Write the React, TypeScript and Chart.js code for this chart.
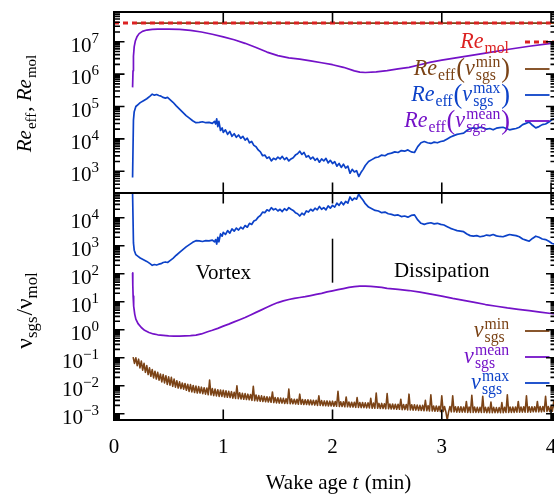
import { useEffect, useRef } from "react";
import { Chart, registerables } from "chart.js";

Chart.register(...registerables);

// ---------- colours ----------
const RED = "#dc2222";
const BROWN = "#7b4316";
const BLUE = "#0c42c8";
const PURPLE = "#7412c8";

// ---------- axes ----------
const X_MIN = 0;
const X_MAX = 4.05;
const xTicks = [0, 1, 2, 3, 4];
// visible decade span (log10) of each panel
const TOP_LO = 2.33;
const TOP_HI = 7.917;
const BOT_LO = -3.203;
const BOT_HI = 4.89;
const topDecades = [3, 4, 5, 6, 7];
const botDecades = [-3, -2, -1, 0, 1, 2, 3, 4];

// ---------- series (values stored as log10) ----------
// Re_mol and Re_eff(nu_sgs^min)
const tRef = [0, 4.05];
const reMolLog = [7.58, 7.58];
const tReMin = [0.17, 4.05];
const reMinLog = [7.575, 7.575];

// nu_sgs^max and Re_eff(nu_sgs^max), same sampling times
const tMax = [
  0.17, 0.178, 0.185, 0.2, 0.22, 0.24, 0.27, 0.3, 0.33, 0.35, 0.37, 0.39, 0.41, 0.43, 0.45, 0.47, 0.49, 0.51,
  0.54, 0.57, 0.6, 0.63, 0.66, 0.69, 0.72, 0.75, 0.78, 0.81, 0.84, 0.87, 0.9, 0.92, 0.93, 0.94, 0.95, 0.96,
  0.975, 0.99, 1.0, 1.02, 1.04, 1.06, 1.08, 1.1, 1.12, 1.14, 1.16, 1.18, 1.2, 1.22, 1.24, 1.26, 1.28, 1.3,
  1.32, 1.34, 1.36, 1.38, 1.4, 1.42, 1.44, 1.46, 1.48, 1.5, 1.52, 1.54, 1.56, 1.58, 1.6, 1.62, 1.64, 1.66,
  1.68, 1.7, 1.72, 1.74, 1.76, 1.78, 1.8, 1.82, 1.84, 1.86, 1.88, 1.9, 1.92, 1.94, 1.96, 1.98, 2.0, 2.02,
  2.04, 2.06, 2.08, 2.1, 2.12, 2.14, 2.16, 2.18, 2.2, 2.22, 2.24, 2.26, 2.28, 2.3, 2.33, 2.36, 2.39, 2.42,
  2.45, 2.48, 2.51, 2.54, 2.57, 2.6, 2.63, 2.66, 2.69, 2.72, 2.75, 2.78, 2.81, 2.84, 2.87, 2.9, 2.93, 2.96,
  2.99, 3.02, 3.05, 3.08, 3.11, 3.14, 3.17, 3.2, 3.23, 3.26, 3.29, 3.32, 3.35, 3.38, 3.41, 3.44, 3.47, 3.5,
  3.53, 3.56, 3.59, 3.62, 3.65, 3.68, 3.71, 3.74, 3.77, 3.8, 3.83, 3.86, 3.89, 3.92, 3.95, 3.98, 4.01, 4.05,
];
const nuMaxLog = [
  4.87, 3.1, 2.84, 2.68, 2.62, 2.56, 2.5, 2.44, 2.36, 2.3, 2.33, 2.31, 2.34, 2.36, 2.4, 2.42, 2.4, 2.46,
  2.55, 2.66, 2.76, 2.86, 2.96, 3.04, 3.12, 3.18, 3.17, 3.15, 3.18, 3.17, 3.2, 3.14, 3.22, 3.06, 3.3, 3.14,
  3.42, 3.34, 3.48, 3.4, 3.54, 3.45, 3.6, 3.52, 3.63, 3.56, 3.66, 3.6, 3.72, 3.66, 3.8, 3.76, 3.88, 3.92,
  4.02, 4.08, 4.2, 4.18, 4.28, 4.24, 4.36, 4.28, 4.32, 4.24, 4.3, 4.22, 4.32, 4.26, 4.36, 4.3, 4.26, 4.18,
  4.14, 4.06, 4.16, 4.1, 4.24, 4.2, 4.3, 4.24, 4.34, 4.28, 4.4, 4.3, 4.36, 4.28, 4.42, 4.34, 4.44, 4.38,
  4.52, 4.44, 4.56, 4.46, 4.58, 4.52, 4.74, 4.62, 4.7, 4.66, 4.84, 4.72, 4.62, 4.5, 4.38, 4.32, 4.26, 4.24,
  4.18, 4.2, 4.14, 4.12, 4.08, 4.1, 4.04, 4.06, 4.02, 4.08, 4.1, 3.92, 3.8, 3.76, 3.8, 3.82, 3.78, 3.8,
  3.76, 3.74, 3.68, 3.62, 3.58, 3.54, 3.52, 3.5, 3.42, 3.36, 3.34, 3.36, 3.32, 3.34, 3.38, 3.36, 3.4, 3.35,
  3.33, 3.32, 3.36, 3.4, 3.38, 3.36, 3.32, 3.24, 3.2, 3.16, 3.26, 3.34, 3.3, 3.24, 3.22, 3.16, 3.08, 3.04,
];
const reMaxLog = [
  2.81, 4.58, 4.84, 5.0, 5.06, 5.12, 5.18, 5.24, 5.32, 5.38, 5.35, 5.37, 5.34, 5.32, 5.28, 5.26, 5.28, 5.22,
  5.13, 5.02, 4.92, 4.82, 4.72, 4.64, 4.56, 4.5, 4.51, 4.53, 4.5, 4.51, 4.48, 4.54, 4.46, 4.62, 4.38, 4.54,
  4.26, 4.34, 4.2, 4.28, 4.14, 4.23, 4.08, 4.16, 4.05, 4.12, 4.02, 4.08, 3.96, 4.02, 3.88, 3.92, 3.8, 3.76,
  3.66, 3.6, 3.48, 3.5, 3.4, 3.44, 3.32, 3.4, 3.36, 3.44, 3.38, 3.46, 3.36, 3.42, 3.32, 3.38, 3.42, 3.5,
  3.54, 3.62, 3.52, 3.58, 3.44, 3.48, 3.38, 3.44, 3.34, 3.4, 3.28, 3.38, 3.32, 3.4, 3.26, 3.34, 3.24, 3.3,
  3.16, 3.24, 3.12, 3.22, 3.1, 3.16, 2.94, 3.06, 2.98, 3.02, 2.84, 2.96, 3.06, 3.18, 3.3, 3.36, 3.42, 3.44,
  3.5, 3.48, 3.54, 3.56, 3.6, 3.58, 3.64, 3.62, 3.66, 3.6, 3.58, 3.76, 3.88, 3.92, 3.88, 3.86, 3.9, 3.88,
  3.92, 3.94, 4.0, 4.06, 4.1, 4.14, 4.16, 4.18, 4.26, 4.32, 4.34, 4.32, 4.36, 4.34, 4.3, 4.32, 4.28, 4.33,
  4.35, 4.36, 4.32, 4.28, 4.3, 4.32, 4.36, 4.44, 4.48, 4.52, 4.42, 4.34, 4.38, 4.44, 4.46, 4.52, 4.6, 4.64,
];

// Re_eff(nu_sgs^mean)
const tReMean = [
  0.17, 0.174, 0.178, 0.185, 0.195, 0.21, 0.23, 0.26, 0.3, 0.35, 0.4, 0.5, 0.6, 0.7, 0.8, 0.9, 1.0, 1.1,
  1.2, 1.3, 1.4, 1.5, 1.6, 1.7, 1.8, 1.9, 2.0, 2.1, 2.2, 2.25, 2.3, 2.4, 2.5, 2.6, 2.7, 2.8, 2.9, 3.0,
  3.2, 3.4, 3.6, 3.8, 4.0, 4.05,
];
const reMeanLog = [
  5.59, 6.1, 6.55, 6.85, 7.02, 7.15, 7.25, 7.32, 7.36, 7.38, 7.39, 7.39, 7.38, 7.35, 7.3, 7.23, 7.15, 7.06,
  6.95, 6.82, 6.68, 6.57, 6.5, 6.46, 6.41, 6.35, 6.29, 6.21, 6.1, 6.06, 6.05, 6.07, 6.11, 6.16, 6.21, 6.29,
  6.37, 6.43, 6.54, 6.65, 6.76, 6.86, 6.95, 6.97,
];

// nu_sgs^mean
const tNuMean = [
  0.17, 0.172, 0.175, 0.18, 0.19, 0.2, 0.22, 0.25, 0.28, 0.32, 0.36, 0.4, 0.45, 0.5, 0.55, 0.6, 0.65, 0.7,
  0.75, 0.8, 0.85, 0.9, 0.95, 1.0, 1.05, 1.1, 1.15, 1.2, 1.25, 1.3, 1.35, 1.4, 1.45, 1.5, 1.55, 1.6, 1.65,
  1.7, 1.75, 1.8, 1.85, 1.9, 1.95, 2.0, 2.05, 2.1, 2.15, 2.2, 2.25, 2.3, 2.35, 2.4, 2.45, 2.5, 2.6, 2.7,
  2.8, 2.9, 3.0, 3.1, 3.2, 3.3, 3.4, 3.5, 3.6, 3.7, 3.8, 3.9, 4.0, 4.05,
];
const nuMeanLog = [
  2.03, 1.6, 1.2, 0.84, 0.55, 0.38, 0.22, 0.08, -0.02, -0.1, -0.15, -0.18, -0.2, -0.22, -0.23, -0.23, -0.22, -0.21,
  -0.19, -0.15, -0.08, -0.02, 0.05, 0.13, 0.2, 0.28, 0.36, 0.44, 0.53, 0.62, 0.71, 0.8, 0.89, 0.97, 1.03, 1.08, 1.12,
  1.15, 1.18, 1.22, 1.26, 1.3, 1.35, 1.39, 1.43, 1.47, 1.51, 1.54, 1.56, 1.56, 1.55, 1.53, 1.51, 1.48, 1.44, 1.4,
  1.34, 1.27, 1.2, 1.12, 1.05, 0.98, 0.9, 0.84, 0.78, 0.73, 0.68, 0.63, 0.58, 0.56,
];

// nu_sgs^min, sampled every NU_MIN_DT minutes from NU_MIN_T0 (16 samples per row)
const NU_MIN_T0 = 0.175;
const NU_MIN_DT = 0.0125;
const nuMinLog = [
  -0.98, -1.2, -1.0, -1.28, -1.05, -1.36, -1.12, -1.44, -1.2, -1.52, -1.28, -1.6, -1.36, -1.66, -1.42, -1.72,
  -1.48, -1.76, -1.52, -1.8, -1.58, -1.86, -1.6, -1.9, -1.64, -1.95, -1.68, -1.98, -1.7, -2.02, -1.76, -2.05,
  -1.82, -2.08, -1.86, -2.1, -1.9, -2.12, -1.92, -2.16, -1.95, -2.2, -1.96, -2.22, -1.99, -2.24, -2.01, -2.26,
  -2.03, -2.26, -2.05, -2.28, -2.07, -2.3, -2.08, -2.32, -1.8, -2.33, -2.1, -2.35, -2.12, -2.36, -2.14, -2.38,
  -2.15, -2.38, -2.16, -2.4, -2.18, -2.41, -2.2, -2.42, -2.21, -2.44, -2.23, -2.45, -2.0, -2.46, -2.25, -2.47,
  -2.27, -2.48, -2.28, -2.49, -2.3, -2.5, -2.31, -2.52, -2.02, -2.53, -2.33, -2.54, -2.35, -2.55, -2.36, -2.56,
  -2.38, -2.57, -2.39, -2.58, -2.4, -2.59, -2.22, -2.6, -2.42, -2.61, -2.43, -2.62, -2.44, -2.62, -2.45, -2.63,
  -2.46, -2.63, -2.12, -2.64, -2.47, -2.64, -2.48, -2.65, -2.48, -2.66, -2.3, -2.66, -2.49, -2.67, -2.5, -2.67,
  -2.5, -2.68, -2.51, -2.68, -2.52, -2.69, -2.52, -2.7, -2.36, -2.7, -2.53, -2.71, -2.54, -2.71, -2.54, -2.72,
  -2.55, -2.72, -2.55, -2.73, -2.56, -2.73, -2.2, -2.74, -2.57, -2.74, -2.57, -2.75, -2.4, -2.75, -2.58, -2.76,
  -2.59, -2.76, -2.59, -2.77, -2.42, -2.77, -2.6, -2.78, -2.6, -2.78, -2.61, -2.79, -2.61, -2.79, -2.45, -2.8,
  -2.62, -2.8, -2.26, -2.8, -2.63, -2.81, -2.63, -2.81, -2.64, -2.82, -2.28, -2.82, -2.65, -2.83, -2.65, -2.83,
  -2.66, -2.84, -2.66, -2.84, -2.48, -2.85, -2.67, -2.85, -2.67, -2.86, -2.3, -2.86, -2.68, -2.87, -2.68, -2.87,
  -2.69, -2.88, -2.7, -2.88, -2.7, -2.89, -2.52, -2.89, -2.71, -2.9, -2.32, -2.9, -2.72, -2.91, -2.72, -2.91,
  -2.73, -2.92, -2.36, -2.92, -2.74, -2.93, -3.22, -2.93, -2.74, -2.93, -2.36, -2.93, -2.75, -2.94, -2.75, -2.94,
  -2.75, -2.94, -2.76, -2.94, -2.56, -2.95, -2.76, -2.95, -2.34, -2.95, -2.76, -2.95, -2.77, -2.95, -2.77, -2.95,
  -2.38, -2.95, -2.77, -2.96, -2.77, -2.96, -2.58, -2.96, -2.77, -2.96, -2.78, -2.96, -2.78, -2.96, -2.6, -2.96,
  -2.77, -2.95, -2.32, -2.95, -2.76, -2.95, -2.76, -2.95, -2.76, -2.94, -2.56, -2.94, -2.76, -2.94, -2.75, -2.94,
  -2.36, -2.94, -2.75, -2.94, -2.75, -2.93, -2.75, -2.93, -2.56, -2.93, -2.74, -2.93, -2.74, -2.92, -2.38, -2.92,
  -2.74, -2.92, -2.73, -2.91, -2.55, -2.91, -2.73,
];

// phase annotations in the lower panel (t in min, log10 of nu ratio)
const phaseLabels = [
  { text: "Vortex", t: 1.0, lv: 1.82 },
  { text: "Dissipation", t: 3.0, lv: 1.9 },
];
const phaseDivider = { t: 2.0, lvFrom: 1.68, lvTo: 3.25 };

// ---------- page / layout ----------
const CANVAS_W = 570;
const CANVAS_H = 495;
const PAD = { left: 114, top: 12, right: 13.5, bottom: 75 };
const TOP_SHARE = 181 / 408; // fraction of the plot height used by the upper panel

const SERIF = '"Liberation Serif", "Times New Roman", Times, serif';
const MAIN_PX = 21;
const SCRIPT_PX = 15;
const PAREN_PX = 25;

type Piece = { s?: string; it?: boolean; big?: boolean; sub?: string; sup?: string };

const fontOf = (px: number, it = false) => `${it ? "italic " : ""}${px}px ${SERIF}`;

function pieceWidth(ctx: CanvasRenderingContext2D, p: Piece, k: number) {
  if (p.s !== undefined) {
    ctx.font = fontOf((p.big ? PAREN_PX : MAIN_PX) * k, p.it);
    return ctx.measureText(p.s).width + (p.it ? 1 : 0);
  }
  ctx.font = fontOf(SCRIPT_PX * k);
  const a = p.sub ? ctx.measureText(p.sub).width : 0;
  const b = p.sup ? ctx.measureText(p.sup).width : 0;
  return Math.max(a, b) + 1;
}

function drawRich(
  ctx: CanvasRenderingContext2D,
  pieces: Piece[],
  x: number,
  y: number,
  align: "left" | "right" | "center",
  color: string,
  subDy = 5,
  supDy = -8,
  k = 1
) {
  const ws = pieces.map((p) => pieceWidth(ctx, p, k));
  const total = ws.reduce((a, b) => a + b, 0);
  let cx = align === "left" ? x : align === "right" ? x - total : x - total / 2;
  ctx.fillStyle = color;
  ctx.textAlign = "left";
  ctx.textBaseline = "alphabetic";
  pieces.forEach((p, i) => {
    if (p.s !== undefined) {
      ctx.font = fontOf((p.big ? PAREN_PX : MAIN_PX) * k, p.it);
      ctx.fillText(p.s, cx, y + (p.big ? 2 : 0));
    } else {
      ctx.font = fontOf(SCRIPT_PX * k);
      if (p.sup) ctx.fillText(p.sup, cx, y + supDy);
      if (p.sub) ctx.fillText(p.sub, cx, y + subDy);
    }
    cx += ws[i];
  });
}

const reEff = (sup: string): Piece[] => [
  { s: "Re", it: true },
  { sub: "eff" },
  { s: "(", big: true },
  { s: "ν", it: true },
  { sub: "sgs", sup },
  { s: ")", big: true },
];
const nuSgs = (sup: string): Piece[] => [{ s: "ν", it: true }, { sub: "sgs", sup }];

type LegendRow = { label: Piece[]; color: string; dash: number[]; width: number; dy: number };
const topLegend: LegendRow[] = [
  { label: [{ s: "Re", it: true }, { sub: "mol" }], color: RED, dash: [5, 4], width: 3, dy: 30 },
  { label: reEff("min"), color: BROWN, dash: [], width: 1.8, dy: 57 },
  { label: reEff("max"), color: BLUE, dash: [], width: 1.8, dy: 83 },
  { label: reEff("mean"), color: PURPLE, dash: [], width: 1.8, dy: 109 },
];
const botLegend: LegendRow[] = [
  { label: nuSgs("min"), color: BROWN, dash: [], width: 1.8, dy: 138 },
  { label: nuSgs("mean"), color: PURPLE, dash: [], width: 1.8, dy: 164 },
  { label: nuSgs("max"), color: BLUE, dash: [], width: 1.8, dy: 190 },
];

const pts = (t: number[], lv: number[]) => t.map((x, i) => ({ x, y: Math.pow(10, lv[i]) }));
const gridPts = (t0: number, dt: number, lv: number[]) => lv.map((v, i) => ({ x: t0 + i * dt, y: Math.pow(10, v) }));

const expLabel = (d: number) => (d < 0 ? "\u2212" + String(-d) : String(d));

const frame = {
  id: "frameAndText",
  afterDraw(chart: any) {
    const ctx: CanvasRenderingContext2D = chart.ctx;
    const { left, right, top, bottom } = chart.chartArea;
    const split = top + (bottom - top) * TOP_SHARE;
    const sx = chart.scales.x;
    const yT = chart.scales.yTop;
    const yB = chart.scales.yBot;
    ctx.save();

    // legend samples
    const sampleL = right - 31.5;
    const sampleR = right - 7;
    const textR = right - 46.5;
    const rows = [
      ...topLegend.map((r) => ({ ...r, y: top + r.dy })),
      ...botLegend.map((r) => ({ ...r, y: top + r.dy + (split - top) })),
    ];
    rows.forEach((r) => {
      ctx.strokeStyle = r.color;
      ctx.lineWidth = r.width;
      ctx.setLineDash(r.dash);
      ctx.beginPath();
      ctx.moveTo(sampleL, r.y);
      ctx.lineTo(r.dash.length ? right : sampleR, r.y);
      ctx.stroke();
    });
    ctx.setLineDash([]);

    // frames
    ctx.strokeStyle = "#000";
    ctx.lineWidth = 2;
    ctx.strokeRect(left, top, right - left, split - top);
    ctx.strokeRect(left, split, right - left, bottom - split);

    // ticks
    const MAJ = 10.5;
    const MIN = 6;
    ctx.lineWidth = 1.6;
    ctx.beginPath();
    xTicks.forEach((t) => {
      const px = sx.getPixelForValue(t);
      ctx.moveTo(px, top);
      ctx.lineTo(px, top + MAJ);
      ctx.moveTo(px, split - MAJ);
      ctx.lineTo(px, split + MAJ);
      ctx.moveTo(px, bottom - MAJ);
      ctx.lineTo(px, bottom);
    });
    const yTicks = (scale: any, lo: number, hi: number) => {
      for (let d = Math.floor(lo); d <= Math.ceil(hi); d++) {
        for (let m = 1; m <= 9; m++) {
          const lv = d + Math.log10(m);
          if (lv < lo || lv > hi) continue;
          const py = scale.getPixelForValue(m * Math.pow(10, d));
          const len = m === 1 ? MAJ : MIN;
          ctx.moveTo(left, py);
          ctx.lineTo(left + len, py);
          ctx.moveTo(right - len, py);
          ctx.lineTo(right, py);
        }
      }
    };
    yTicks(yT, TOP_LO, TOP_HI);
    yTicks(yB, BOT_LO, BOT_HI);
    ctx.stroke();

    // phase divider
    ctx.lineWidth = 1.5;
    ctx.beginPath();
    const dx = sx.getPixelForValue(phaseDivider.t);
    ctx.moveTo(dx, yB.getPixelForValue(Math.pow(10, phaseDivider.lvFrom)));
    ctx.lineTo(dx, yB.getPixelForValue(Math.pow(10, phaseDivider.lvTo)));
    ctx.stroke();

    // y tick labels
    const labelY = (scale: any, decades: number[]) =>
      decades.forEach((d) => {
        const py = scale.getPixelForValue(Math.pow(10, d));
        drawRich(ctx, [{ s: "10" }, { sup: expLabel(d) }], left - 14, py + 10, "right", "#000", 5, -9);
      });
    labelY(yT, topDecades);
    labelY(yB, botDecades);

    // x tick labels
    ctx.font = fontOf(MAIN_PX);
    ctx.fillStyle = "#000";
    ctx.textAlign = "center";
    ctx.textBaseline = "alphabetic";
    xTicks.forEach((t) => ctx.fillText(String(t), sx.getPixelForValue(t), bottom + 33));

    // x title
    drawRich(
      ctx,
      [{ s: "Wake age " }, { s: "t", it: true }, { s: " (min)" }],
      left + (sx.getPixelForValue(4) - left) / 2 + 6,
      bottom + 69,
      "center",
      "#000"
    );

    // y titles
    ctx.save();
    ctx.translate(31, top + 91);
    ctx.rotate(-Math.PI / 2);
    drawRich(
      ctx,
      [{ s: "Re", it: true }, { sub: "eff" }, { s: ", " }, { s: "Re", it: true }, { sub: "mol" }],
      0,
      0,
      "center",
      "#000"
    );
    ctx.restore();
    ctx.save();
    ctx.translate(32, split + 117);
    ctx.rotate(-Math.PI / 2);
    drawRich(ctx, [{ s: "ν" }, { sub: "sgs" }, { s: "/" }, { s: "ν" }, { sub: "mol" }], 0, 0, "center", "#000", 5, -8, 1.12);
    ctx.restore();

    // phase labels
    phaseLabels.forEach((p) => {
      ctx.font = fontOf(MAIN_PX);
      ctx.fillStyle = "#000";
      ctx.textAlign = "center";
      ctx.fillText(p.text, sx.getPixelForValue(p.t), yB.getPixelForValue(Math.pow(10, p.lv)));
    });

    // legend labels
    rows.forEach((r) => drawRich(ctx, r.label, textR, r.y + 6, "right", r.color, 5, -8, 1.05));

    ctx.restore();
  },
};

export default function App() {
  const ref = useRef<HTMLCanvasElement>(null);

  useEffect(() => {
    const canvas = ref.current;
    if (!canvas) return;
    const plotH = CANVAS_H - PAD.top - PAD.bottom;
    const topH = plotH * TOP_SHARE;
    const botH = plotH - topH;
    // extend each log axis over the whole plot height, then clip to its own panel
    const topMinExp = TOP_LO - ((TOP_HI - TOP_LO) * botH) / topH;
    const botMaxExp = BOT_HI + ((BOT_HI - BOT_LO) * topH) / botH;
    const clipTop = { left: 0, right: 0, top: 0, bottom: -botH };
    const clipBot = { left: 0, right: 0, top: -topH, bottom: 0 };

    const line = (data: any[], color: string, width: number, yAxisID: string, clip: any, dash: number[] = []) => ({
      data,
      borderColor: color,
      borderWidth: width,
      borderDash: dash,
      borderJoinStyle: "round" as const,
      pointRadius: 0,
      tension: 0,
      fill: false,
      yAxisID,
      clip,
    });

    const chart = new Chart(canvas, {
      type: "line",
      data: {
        datasets: [
          line(pts(tRef, reMolLog), RED, 3, "yTop", clipTop, [5, 4]),
          line(pts(tReMin, reMinLog), BROWN, 1.8, "yTop", clipTop),
          line(pts(tMax, reMaxLog), BLUE, 1.7, "yTop", clipTop),
          line(pts(tReMean, reMeanLog), PURPLE, 1.7, "yTop", clipTop),
          line(pts(tMax, nuMaxLog), BLUE, 1.7, "yBot", clipBot),
          line(pts(tNuMean, nuMeanLog), PURPLE, 1.7, "yBot", clipBot),
          line(gridPts(NU_MIN_T0, NU_MIN_DT, nuMinLog), BROWN, 1.6, "yBot", clipBot),
        ],
      },
      options: {
        responsive: false,
        animation: false,
        events: [],
        layout: { padding: PAD },
        plugins: { legend: { display: false }, tooltip: { enabled: false } },
        scales: {
          x: { type: "linear", min: X_MIN, max: X_MAX, display: false },
          yTop: { type: "logarithmic", min: Math.pow(10, topMinExp), max: Math.pow(10, TOP_HI), display: false },
          yBot: { type: "logarithmic", min: Math.pow(10, BOT_LO), max: Math.pow(10, botMaxExp), display: false },
        },
      },
      plugins: [frame],
    });
    return () => chart.destroy();
  }, []);

  return (
    <div
      style={{
        position: "fixed",
        left: 0,
        top: 0,
        width: 554,
        height: 495,
        overflow: "hidden",
        background: "#fff",
      }}
    >
      <canvas ref={ref} width={CANVAS_W} height={CANVAS_H} style={{ display: "block" }} />
    </div>
  );
}
